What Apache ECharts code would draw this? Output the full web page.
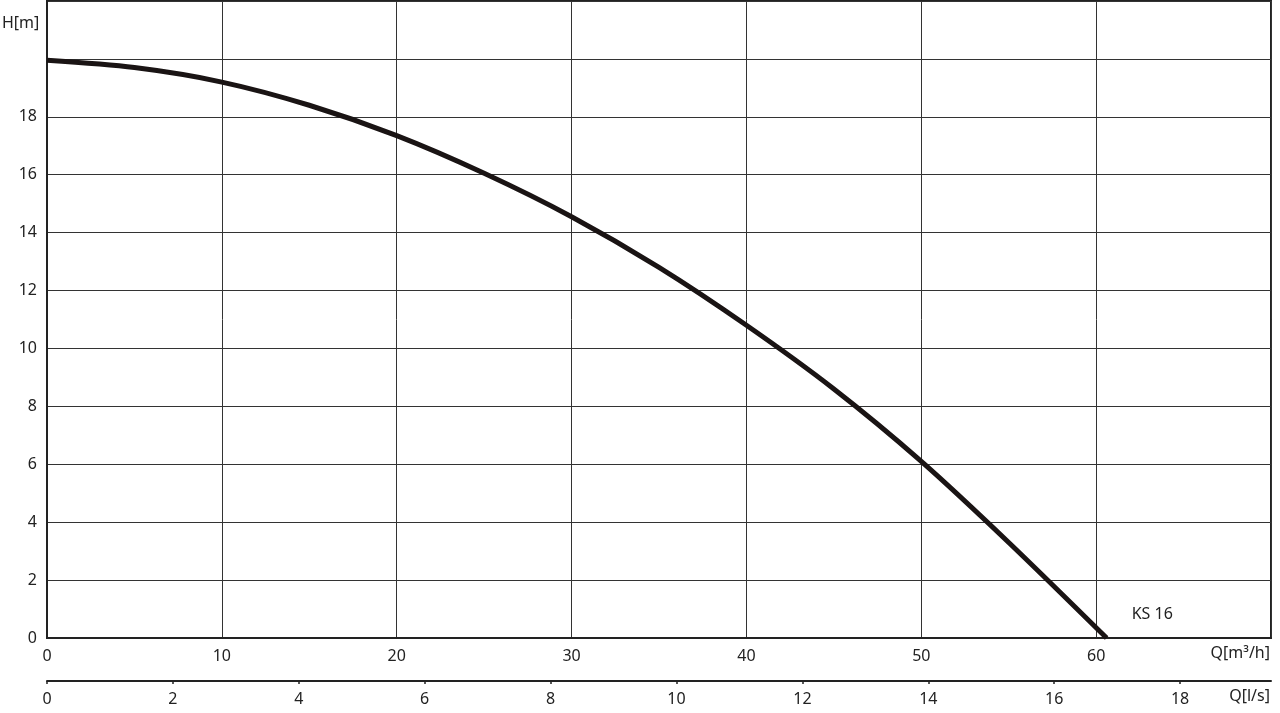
<!DOCTYPE html>
<html>
<head>
<meta charset="utf-8">
<script src="https://cdn.jsdelivr.net/npm/echarts@6/dist/echarts.min.js"></script>
<style>html,body{margin:0;padding:0;background:#fff;}#c{width:1280px;height:713px;}</style>
</head>
<body>
<div id="c"></div>
<script>
// Data
const flowM3h = [0, 5, 10, 15, 20, 25, 30, 35, 40, 45, 50, 55, 60.6];
const headM = [19.95, 19.7, 19.2, 18.4, 17.35, 16.05, 14.55, 12.8, 10.8, 8.6, 6.1, 3.3, 0];
const seriesName = 'KS 16';
const yTicksShown = [0, 2, 4, 6, 8, 10, 12, 14, 16, 18];
const xTicksShown = [0, 10, 20, 30, 40, 50, 60];
const lsTicksShown = [0, 2, 4, 6, 8, 10, 12, 14, 16, 18];
const xMax = 70, yMax = 22;

const font = 'Noto Sans';
const txt = '#222';
const chart = echarts.init(document.getElementById('c'));
chart.setOption({
  animation: false,
  grid: { left: 47, right: 9, top: 1, bottom: 75, show: true, borderColor: '#222', borderWidth: 2, backgroundColor: 'transparent' },
  xAxis: [{
    type: 'value', min: 0, max: xMax, interval: 10, position: 'bottom',
    axisLine: { show: true, onZero: false, lineStyle: { color: '#222', width: 2 } },
    axisTick: { show: false },
    axisLabel: { margin: 10, color: txt, fontFamily: font, fontSize: 16,
      formatter: v => xTicksShown.includes(v) ? String(v) : '' },
    splitLine: { show: true, lineStyle: { color: '#333', width: 1 } }
  }, {
    type: 'value', min: 0, max: xMax / 3.6, interval: 2, position: 'bottom', offset: 43,
    axisLine: { show: true, onZero: false, lineStyle: { color: '#222', width: 2 } },
    axisTick: { show: true, length: 3, lineStyle: { color: '#222', width: 1.5 } },
    axisLabel: { margin: 10, color: txt, fontFamily: font, fontSize: 16, showMaxLabel: false,
      formatter: v => lsTicksShown.includes(Math.round(v * 1000) / 1000) ? String(v) : '' },
    splitLine: { show: false }
  }],
  yAxis: {
    type: 'value', min: 0, max: yMax, interval: 2,
    axisLine: { show: true, lineStyle: { color: '#222', width: 2 } },
    axisTick: { show: false },
    axisLabel: { margin: 10, color: txt, fontFamily: font, fontSize: 16,
      formatter: v => yTicksShown.includes(v) ? String(v) : '' },
    splitLine: { show: true, lineStyle: { color: '#333', width: 1 } }
  },
  series: [{
    name: seriesName, type: 'line', xAxisIndex: 0, smooth: 0.3, showSymbol: false,
    data: flowM3h.map((q, i) => [q, headM[i]]),
    lineStyle: { color: '#1a1414', width: 5 },
    endLabel: { show: true, formatter: seriesName, offset: [17, -24], color: txt, fontFamily: font, fontSize: 16 }
  }],
  graphic: [
    { type: 'text', left: 2, top: 15, style: { text: 'H[m]', fill: txt, font: '16px "' + font + '"' } },
    { type: 'text', right: 10, top: 645, style: { text: 'Q[m³/h]', fill: txt, font: '16px "' + font + '"' } },
    { type: 'text', right: 10, top: 688, style: { text: 'Q[l/s]', fill: txt, font: '16px "' + font + '"' } }
  ]
});
</script>
</body>
</html>
